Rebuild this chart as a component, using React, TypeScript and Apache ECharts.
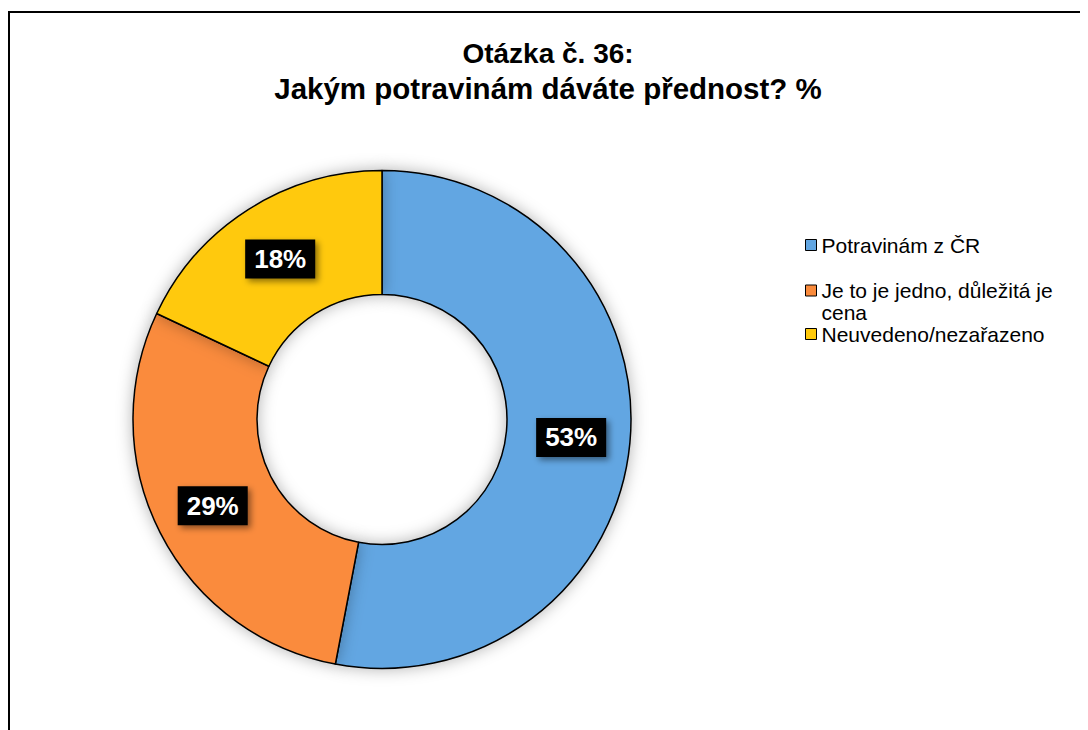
import React, { useEffect, useRef } from "react";
import * as echarts from "echarts";

const titleLines = ["Otázka č. 36:", "Jakým potravinám dáváte přednost? %"];
const categories = ["Potravinám z ČR", "Je to je jedno, důležitá je cena", "Neuvedeno/nezařazeno"];
const legendLabels = ["Potravinám z ČR", "Je to je jedno, důležitá je\ncena", "Neuvedeno/nezařazeno"];
const values = [53, 29, 18];
const colors = ["#62A6E2", "#FA8B3C", "#FFC90B"];
const legendTops = [226, 271, 315];
const titleTops = [28, 63];
const titleSizes = [28, 29.5];

// square icon aligned with the first line of a two-line legend label
const tallIcon = "path://M0,5.5H11V16.5H0Z M0,0L0.001,0 M0,44L0.001,44";

export default function App() {
  const ref = useRef<HTMLDivElement>(null);
  useEffect(() => {
    document.body.style.overflow = "hidden";
    const chart = echarts.init(ref.current!, undefined, { renderer: "svg" });
    const legends = categories.map((c, i) => ({
      data: [c],
      left: 797,
      top: legendTops[i],
      padding: 0,
      orient: "vertical" as const,
      icon: i === 1 ? tallIcon : "rect",
      itemWidth: 11,
      itemHeight: i === 1 ? 44 : 11,
      selectedMode: false,
      itemStyle: { borderColor: "#000", borderWidth: 1 },
      formatter: () => legendLabels[i],
      textStyle: {
        fontFamily: "Liberation Sans, Arial, sans-serif",
        fontSize: 21,
        color: "#000",
        lineHeight: 22,
      },
    }));
    chart.setOption({
      animation: false,
      backgroundColor: "#fff",
      title: titleLines.map((t, i) => ({
        text: t,
        left: "center",
        top: titleTops[i],
        padding: 0,
        textStyle: {
          fontFamily: "Liberation Sans, Arial, sans-serif",
          fontSize: titleSizes[i],
          fontWeight: "bold",
          color: "#000",
          lineHeight: 35,
        },
      })),
      graphic: [
        {
          type: "rect",
          shape: { x: 1, y: 4, width: 1200, height: 1000 },
          style: { fill: "none", stroke: "#000", lineWidth: 2 },
          silent: true,
        },
      ],
      legend: legends,
      series: [
        {
          type: "pie",
          center: [374, 411.5],
          radius: [125, 249],
          startAngle: 90,
          clockwise: true,
          avoidLabelOverlap: false,
          label: {
            show: true,
            position: "inside",
            formatter: "{c}%",
            color: "#fff",
            fontFamily: "Liberation Sans, Arial, sans-serif",
            fontSize: 26,
            fontWeight: "bold",
            backgroundColor: "#000",
            padding: [7, 9, 6, 9],
            shadowColor: "rgba(0,0,0,0.45)",
            shadowBlur: 6,
            shadowOffsetX: 3,
            shadowOffsetY: 3,
          },
          labelLine: { show: false },
          itemStyle: {
            borderColor: "#000",
            borderWidth: 1.5,
            shadowColor: "rgba(0,0,0,0.3)",
            shadowBlur: 16,
          },
          emphasis: { disabled: true },
          data: categories.map((c, i) => ({
            name: c,
            value: values[i],
            itemStyle: { color: colors[i] },
          })),
        },
      ],
    });
    return () => chart.dispose();
  }, []);
  return <div ref={ref} style={{ width: 1080, height: 722 }} />;
}
